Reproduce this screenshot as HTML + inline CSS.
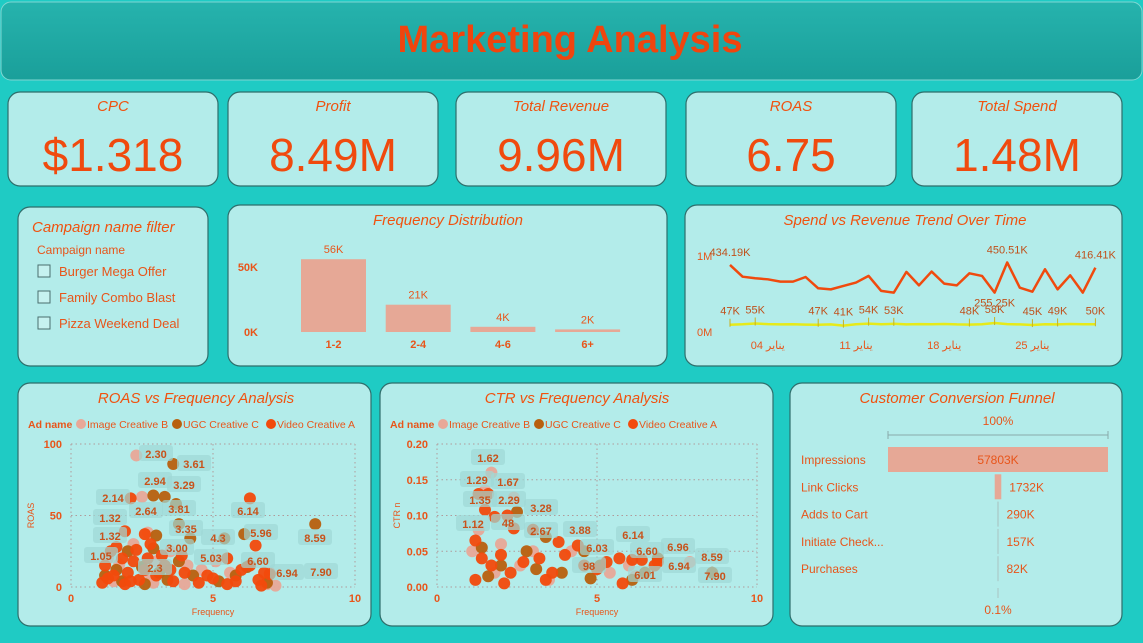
<!DOCTYPE html>
<html><head><meta charset="utf-8">
<style>
html,body{margin:0;padding:0;background:#1fcbc4;}
svg{display:block;font-family:"Liberation Sans","DejaVu Sans",sans-serif;}
.t{fill:#f0520f;font-style:italic;font-size:15px;}
.ax{fill:#e8551a;font-size:11px;font-weight:bold;}
</style></head>
<body>
<svg id="dash" width="1143" height="643" viewBox="0 0 1143 643" xmlns="http://www.w3.org/2000/svg">
<defs><linearGradient id="hg" x1="0" y1="0" x2="0" y2="1"><stop offset="0" stop-color="#26b3ad"/><stop offset="1" stop-color="#1a9f9a"/></linearGradient></defs>
<rect width="1143" height="643" fill="#1fcbc4"/>
<rect x="1" y="2" width="1141" height="78" rx="10" fill="url(#hg)" stroke="#7fd6d2"/>
<text x="570" y="52" text-anchor="middle" fill="#f0450e" font-size="38" font-weight="bold">Marketing Analysis</text>
<g id="cards"></g>
<g id="content"></g>
</svg>
<script>
const NS='http://www.w3.org/2000/svg';
const cardsG=document.getElementById('cards');
const G=document.getElementById('content');
function mk(tag,attrs,parent,txt){const e=document.createElementNS(NS,tag);for(const k in attrs)e.setAttribute(k,attrs[k]);if(txt!==undefined)e.textContent=txt;(parent||G).appendChild(e);return e;}
function card(x,y,w,h,name){const r=mk('rect',{x:x,y:y,width:w,height:h,rx:12,fill:'#b3ecea',stroke:'#2e6e6b','stroke-width':1.2},cardsG);

}

// KPI cards
const kpiTitles=['CPC','Profit','Total Revenue','ROAS','Total Spend'];
const kpiValues=['$1.318','8.49M','9.96M','6.75','1.48M'];
const kpiX=[8,228,456,686,912];
kpiTitles.forEach((t,i)=>{
 card(kpiX[i],92,210,94,'kpi-card-'+t.toLowerCase().replace(/ /g,'-'));
 const a=mk('text',{x:kpiX[i]+105,y:111,'text-anchor':'middle',class:'t'},G,t);
 
 
 const b=mk('text',{x:kpiX[i]+105,y:171,'text-anchor':'middle',fill:'#f04a0e','font-size':46},G,kpiValues[i]);
 
 
});

// Filter
card(18,207,190,159,'campaign-filter-card');
let e=mk('text',{x:32,y:232,class:'t','font-size':17},G,'Campaign name filter');


e=mk('text',{x:37,y:254,fill:'#e8551a','font-size':12},G,'Campaign name');


['Burger Mega Offer','Family Combo Blast','Pizza Weekend Deal'].forEach((c,i)=>{
 const y=265+i*26;
 const b=mk('rect',{x:38,y:y,width:12,height:12,fill:'#c6f2f0',stroke:'#4a6e6d'});
 
 
 const t=mk('text',{x:59,y:y+11,fill:'#e8551a','font-size':13},G,c);
 
 
});

// Frequency distribution
card(228,205,439,161,'frequency-distribution-card');
e=mk('text',{x:448,y:225,'text-anchor':'middle',class:'t'},G,'Frequency Distribution');


const freqCats=['1-2','2-4','4-6','6+'];
const freqVals=[56,21,4,2];
const freqLabels=['56K','21K','4K','2K'];
const fy=v=>332-v*1.3;
[['50K',50],['0K',0]].forEach(([l,v])=>{const t=mk('text',{x:258,y:fy(v)+4,'text-anchor':'end',class:'ax'},G,l);
 
 });
freqCats.forEach((c,i)=>{
 const x=301+i*84.7;
 const r=mk('rect',{x:x,y:fy(freqVals[i]),width:65,height:freqVals[i]*1.3,fill:'#e6a896'});
 
 
 const l=mk('text',{x:x+32.5,y:fy(freqVals[i])-6,'text-anchor':'middle',fill:'#e8551a','font-size':11},G,freqLabels[i]);
 
 
 const c2=mk('text',{x:x+32.5,y:348,'text-anchor':'middle',class:'ax'},G,c);
 
 
});

// Spend vs revenue
card(685,205,437,161,'spend-revenue-card');
e=mk('text',{x:905,y:225,'text-anchor':'middle',class:'t'},G,'Spend vs Revenue Trend Over Time');


const revenue=[434,358,348,341,326,326,356,283,276,298,320,363,266,255,389,302,391,313,302,380,363,255,450,287,261,406,276,367,255,416];
const spend=[47,50,55,51,49,50,48,47,49,41,50,54,50,53,49,51,50,52,49,48,50,58,51,49,45,50,49,52,50,50];
const spendLabelIdx=[0,2,7,9,11,13,19,21,24,26,29];
const revLabels=[[0,'434.19K'],[22,'450.51K'],[21,'255.25K'],[29,'416.41K']];
const dateLabels=[[3,'يناير 04'],[10,'يناير 11'],[17,'يناير 18'],[24,'يناير 25']];
const lx=i=>730+i*12.6, ly=v=>332-v*0.1545;
[['1M',256],['0M',332]].forEach(([l,y])=>{const t=mk('text',{x:697,y:y+4,fill:'#e8551a','font-size':11},G,l);
 
 });
let p=mk('polyline',{points:revenue.map((v,i)=>lx(i)+','+ly(v)).join(' '),fill:'none',stroke:'#f04a0e','stroke-width':2.5,'stroke-linejoin':'round'});


p=mk('polyline',{points:spend.map((v,i)=>lx(i)+','+ly(v)).join(' '),fill:'none',stroke:'#e6ea1a','stroke-width':2.5});


spendLabelIdx.forEach(i=>{
 const tk=mk('line',{x1:lx(i),x2:lx(i),y1:ly(spend[i])-6,y2:ly(spend[i])+2,stroke:'#c8b020','stroke-width':1});
 
 
 const t=mk('text',{x:lx(i),y:ly(spend[i])-10,'text-anchor':'middle',fill:'#c0501a','font-size':11},G,spend[i]+'K');
 
 
});
revLabels.forEach(([i,l])=>{
 const t=mk('text',{x:lx(i),y:ly(revenue[i])-(i===21?-14:9),'text-anchor':'middle',fill:'#c0501a','font-size':11},G,l);
 
 
});
dateLabels.forEach(([i,l])=>{
 const t=mk('text',{x:lx(i),y:349,'text-anchor':'middle',fill:'#e8551a','font-size':11},G,l);
 
 
});

// Scatter helpers
const seriesNames=['Image Creative B','UGC Creative C','Video Creative A'];
const seriesColors=['#e8a898','#b8600e','#f24a0c'];
function legend(x0,y){
 const a=mk('text',{x:x0,y:y,fill:'#e8551a','font-size':10.5,'font-weight':'bold'},G,'Ad name');
 
 
 let x=x0+48;
 seriesNames.forEach((n,i)=>{
  const c=mk('circle',{cx:x+5,cy:y-4,r:5,fill:seriesColors[i]});
  
  
  const t=mk('text',{x:x+11,y:y,fill:'#e8551a','font-size':10.5},G,n);
  
  
  x+=[96,94,90][i];
 });
}
function grid(x0,x1,y0,y1,xt,yt,xs,ys,ytl,ylabel){
 xt.forEach(v=>{const x=xs(v);
  const l=mk('line',{x1:x,x2:x,y1:y1,y2:y0,stroke:'#b09a9a','stroke-dasharray':'1.5 3'});
  
  
  const t=mk('text',{x:x,y:y0+15,'text-anchor':'middle',class:'ax'},G,v);
  
  });
 yt.forEach((v,i)=>{const y=ys(v);
  const l=mk('line',{x1:x0,x2:x1,y1:y,y2:y,stroke:'#b09a9a','stroke-dasharray':'1.5 3'});
  
  
  const t=mk('text',{x:x0-9,y:y+4,'text-anchor':'end',class:'ax'},G,ytl[i]);
  
  });
 const xl=mk('text',{x:(x0+xs(10))/2,y:y0+28,'text-anchor':'middle',fill:'#e8551a','font-size':9},G,'Frequency');
 
 
 const yl=mk('text',{x:0,y:0,'text-anchor':'middle',fill:'#e8551a','font-size':9,transform:'translate('+(x0-37)+','+((y0+y1)/2)+') rotate(-90)'},G,ylabel);
 
 
}
function labels(arr){arr.forEach(([x,y,t])=>{
 const b=mk('rect',{x:x-17,y:y-11,width:34,height:16,rx:3,fill:'#9fd8d6',opacity:0.7});
 
 
 const tt=mk('text',{x:x,y:y+2,'text-anchor':'middle',fill:'#c8521a','font-size':11,'font-weight':'bold'},G,t);
 
 });}

// ROAS scatter
card(18,383,353,243,'roas-frequency-card');
e=mk('text',{x:196,y:403,'text-anchor':'middle',class:'t'},G,'ROAS vs Frequency Analysis');


legend(28,428);
const roasImage=[[2.3,92],[2.5,63],[1.3,20],[1.7,16],[2.2,30],[2.6,8],[3.0,18],[3.5,25],[4.1,15],[4.6,12],[5.1,18],[5.6,10],[7.0,10],[1.5,4],[2.9,3],[4.0,2],[7.2,1],[6.9,2],[2.7,38]];
const roasUGC=[[3.6,86],[2.9,64],[3.3,63],[3.7,58],[3.8,44],[3.0,36],[4.2,34],[5.4,34],[6.1,37],[8.6,44],[1.2,8],[1.6,12],[2.0,25],[2.5,14],[2.9,27],[3.4,5],[3.8,18],[4.3,8],[5.2,4],[5.8,8],[6.2,14],[1.8,4],[2.6,2],[3.1,10],[6.9,3]];
const roasVideo=[[2.1,62],[6.3,62],[1.9,39],[2.6,37],[6.5,29],[5.5,20],[3.9,22],[3.2,22],[7.0,9],[6.7,1],[1.2,15],[1.4,25],[1.6,28],[1.8,20],[2.0,10],[2.2,18],[2.4,5],[2.6,12],[2.8,30],[3.0,8],[3.3,15],[3.6,4],[4.0,10],[4.5,3],[5.0,6],[5.5,2],[6.0,12],[6.3,15],[6.6,5],[1.1,3],[1.5,8],[1.9,2],[2.3,26],[2.7,20],[3.5,12],[4.8,8],[5.8,4],[6.8,10],[1.3,6],[2.1,4]];
const roasXTicks=[0,5,10], roasYTicks=[0,50,100];
const rx=v=>71+v*28.4, ry=v=>587-v*1.43;
grid(71,355,587,444,roasXTicks,roasYTicks,rx,ry,['0','50','100'],'ROAS');
[roasImage,roasUGC,roasVideo].forEach((s,si)=>s.forEach(([f,v])=>{
 const c=mk('circle',{cx:rx(f),cy:ry(v),r:6,fill:seriesColors[si],opacity:0.95});
 
 
}));
labels([[156,456,'2.30'],[194,466,'3.61'],[155,483,'2.94'],[184,487,'3.29'],[113,500,'2.14'],[146,513,'2.64'],[179,511,'3.81'],[110,520,'1.32'],[248,513,'6.14'],[186,531,'3.35'],[261,535,'5.96'],[110,538,'1.32'],[315,540,'8.59'],[218,540,'4.3'],[177,550,'3.00'],[211,560,'5.03'],[101,558,'1.05'],[258,563,'6.60'],[155,570,'2.3'],[287,575,'6.94'],[321,574,'7.90']]);

// CTR scatter
card(380,383,393,243,'ctr-frequency-card');
e=mk('text',{x:577,y:403,'text-anchor':'middle',class:'t'},G,'CTR vs Frequency Analysis');


legend(390,428);
const ctrImage=[[1.7,0.16],[1.5,0.135],[2.4,0.125],[1.3,0.08],[2.0,0.06],[3.0,0.05],[2.6,0.03],[4.2,0.05],[5.4,0.02],[6.2,0.015],[7.9,0.035],[1.8,0.02],[3.5,0.01],[6.0,0.03],[1.1,0.05]];
const ctrUGC=[[2.5,0.105],[3.4,0.07],[4.6,0.05],[6.9,0.04],[8.6,0.02],[1.4,0.055],[2.0,0.03],[2.8,0.05],[3.9,0.02],[5.1,0.03],[6.1,0.01],[1.6,0.015],[3.1,0.025],[4.8,0.012],[6.5,0.02]];
const ctrVideo=[[1.3,0.13],[1.6,0.13],[1.5,0.108],[1.8,0.098],[2.2,0.10],[2.4,0.082],[3.0,0.08],[3.8,0.063],[4.4,0.058],[1.2,0.065],[1.4,0.04],[1.7,0.03],[2.0,0.045],[2.3,0.02],[2.7,0.035],[3.2,0.04],[3.6,0.02],[4.0,0.045],[4.6,0.03],[5.0,0.025],[5.3,0.035],[5.7,0.04],[6.1,0.038],[6.4,0.038],[6.8,0.03],[6.9,0.035],[1.2,0.01],[2.1,0.005],[3.4,0.01],[5.8,0.005]];
const ctrXTicks=[0,5,10], ctrYTicks=[0,0.05,0.10,0.15,0.20];
const cx=v=>437+v*32, cy=v=>587-v*715;
grid(437,757,587,444,ctrXTicks,ctrYTicks,cx,cy,['0.00','0.05','0.10','0.15','0.20'],'CTR n');
[ctrImage,ctrUGC,ctrVideo].forEach((s,si)=>s.forEach(([f,v])=>{
 const c=mk('circle',{cx:cx(f),cy:cy(v),r:6,fill:seriesColors[si],opacity:0.95});
 
 
}));
labels([[488,460,'1.62'],[477,482,'1.29'],[508,484,'1.67'],[480,502,'1.35'],[509,502,'2.29'],[541,510,'3.28'],[473,526,'1.12'],[508,525,'48'],[580,532,'3.88'],[541,533,'2.67'],[633,537,'6.14'],[597,550,'6.03'],[678,549,'6.96'],[712,559,'8.59'],[647,553,'6.60'],[679,568,'6.94'],[715,578,'7.90'],[645,577,'6.01'],[589,568,'98']]);

// Funnel
card(790,383,332,243,'conversion-funnel-card');
e=mk('text',{x:957,y:403,'text-anchor':'middle',class:'t'},G,'Customer Conversion Funnel');


const stages=['Impressions','Link Clicks','Adds to Cart','Initiate Check...','Purchases'];
const stageVals=[57803,1732,290,157,82];
const fx0=888,fw=220,fc=998;
e=mk('text',{x:fc,y:425,'text-anchor':'middle',fill:'#e8551a','font-size':12},G,'100%');


e=mk('path',{d:'M888 431 V439 M888 435 H1108 M1108 431 V439',stroke:'#8aa','fill':'none'});


stages.forEach((s,i)=>{
 const y=447+i*27.3;
 const w=Math.max(fw*stageVals[i]/stageVals[0],1);
 const r=mk('rect',{x:fc-w/2,y:y,width:w,height:25,fill:i<2?'#e6a896':'#a8c4c2'});
 
 
 const t=mk('text',{x:801,y:y+17,fill:'#e8551a','font-size':12},G,s);
 
 
 const v=mk('text',{x:i===0?fc:fc+w/2+8,y:y+17,'text-anchor':i===0?'middle':'start',fill:'#e8551a','font-size':12},G,stageVals[i]+'K');
 
 
});
e=mk('line',{x1:fc,x2:fc,y1:588,y2:598,stroke:'#a8c4c2','stroke-width':1});


e=mk('text',{x:fc,y:614,'text-anchor':'middle',fill:'#e8551a','font-size':12},G,'0.1%');


</script>
</body></html>
